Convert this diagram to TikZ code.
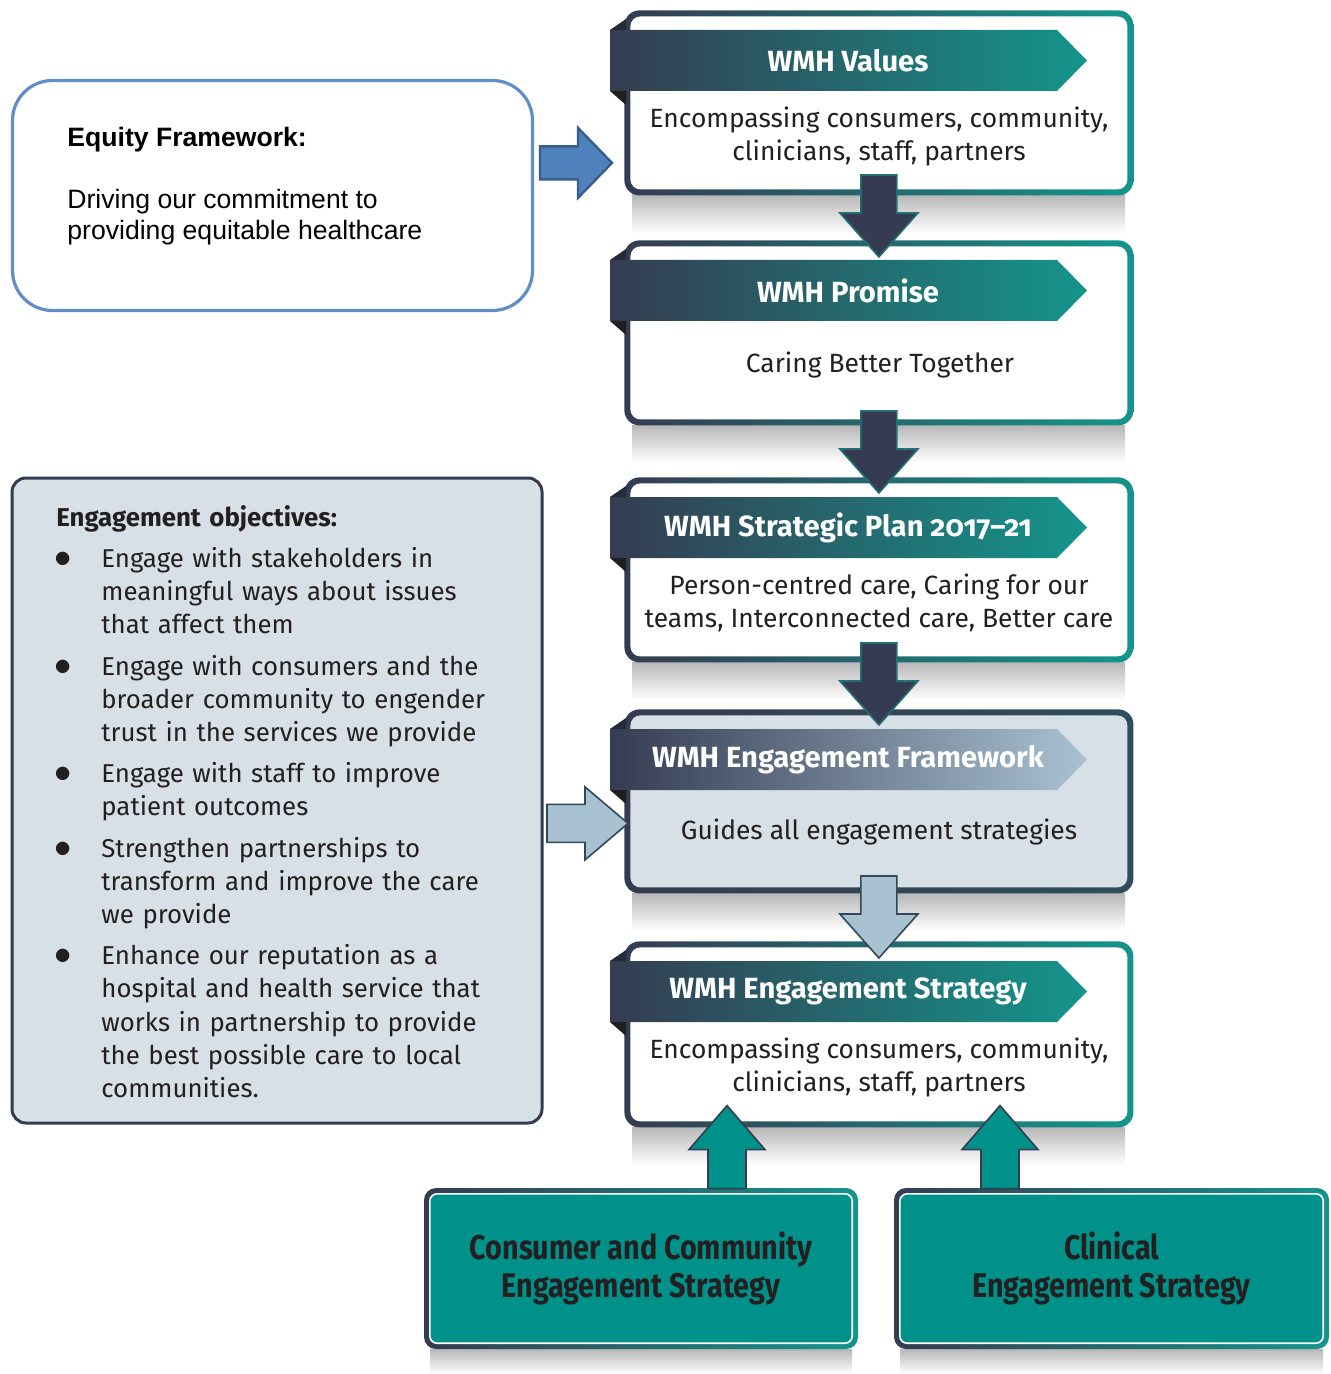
\documentclass[tikz,border=0pt]{standalone}
\usepackage{fontspec}
\setmainfont{Fira Sans}
\newfontfamily\eqfont{Liberation Sans}
\newfontfamily\narrowfont[FakeStretch=0.84]{Fira Sans}
\usetikzlibrary{positioning,calc}

\definecolor{wmhnavy}{HTML}{353C51}
\definecolor{wmhteal}{HTML}{14958B}
\definecolor{wmhgrey}{HTML}{D7E0E6}
\definecolor{wmhsky}{HTML}{A9C2D2}
\definecolor{wmhgreen}{HTML}{00918A}
\definecolor{eqblue}{HTML}{4F81BD}
\definecolor{eqedge}{HTML}{385D8A}
\definecolor{inkdark}{HTML}{231F20}

\tikzset{
  panel/.style={rounded corners=7.5pt, left color=wmhnavy, inner sep=0pt, minimum width=254.5pt,
    path picture={\fill[#1, rounded corners=5pt]
      ([shift={(3pt,-3pt)}]path picture bounding box.north west) rectangle
      ([shift={(-3pt,3pt)}]path picture bounding box.south east);}},
  panel/.default=white,
  greenbox/.style={rounded corners=6pt, left color=wmhnavy, right color=wmhteal, inner sep=0pt,
    minimum height=80.5pt, align=center, text=inkdark,
    font=\narrowfont\bfseries\fontsize{17.1}{19}\selectfont,
    path picture={
      \fill[white, rounded corners=4pt]
        ([shift={(2.5pt,-2.5pt)}]path picture bounding box.north west) rectangle
        ([shift={(-2.5pt,2.5pt)}]path picture bounding box.south east);
      \fill[wmhgreen, rounded corners=3.5pt]
        ([shift={(3.3pt,-3.3pt)}]path picture bounding box.north west) rectangle
        ([shift={(-3.3pt,3.3pt)}]path picture bounding box.south east);}},
  shadow/.style={top color=black!28, bottom color=white},
  title/.style={text=white, font=\bfseries\fontsize{14.6}{18}\selectfont},
  body/.style={text=inkdark, align=center, font=\fontsize{13.2}{16.5}\selectfont},
  darkarrow/.style={fill=wmhnavy, draw=wmhteal!60!wmhnavy, line width=0.8pt},
  skyarrow/.style={fill=wmhsky, draw=wmhnavy!85!wmhteal, line width=0.8pt},
  greenarrow/.style={fill=wmhgreen, draw=wmhnavy, line width=0.8pt},
  eqarrow/.style={fill=eqblue, draw=eqedge, line width=1.2pt},
  eqbox/.style={draw=eqblue!90!white, line width=1.6pt, rounded corners=20pt, fill=white,
    minimum width=260pt, minimum height=115pt},
  eqtext/.style={font=\eqfont\fontsize{13.3}{15.5}\selectfont, align=left, inner sep=0pt},
  objbox/.style={fill=wmhgrey, draw=wmhnavy, line width=1.5pt, rounded corners=7pt,
    minimum width=265pt, minimum height=322.5pt},
  objtext/.style={text=inkdark, text width=235pt, inner sep=0pt, font=\fontsize{12.9}{16.6}\selectfont}
}

\newcommand{\wmhpanel}[7]{%
  \shade[shadow] (632,#3) rectangle (1125,#3+38);
  \node[panel=#4, right color=#6, minimum height={(#3-#2)*0.5pt}, anchor=north west] (#1) at (624,#2) {};
  \shade[left color=wmhnavy, right color=#5] (610,#2+20) -- (1057,#2+20) -- (1087,#2+50.5)
    -- (1057,#2+81) -- (610,#2+81) -- cycle;
  \fill[wmhnavy!70!black] (610,#2+20) -- (626,#2+9) -- (626,#2+20) -- cycle;
  \fill[black!88] (610,#2+81) -- (626,#2+81) -- (626,#2+95) -- cycle;
  \node[title] (#1-title) at (848,#2+50.5) {#7};
}
\newcommand{\flowdown}[2]{%
  \draw[#2] (#1) ++(-18,-82) -- ++(36,0) -- ++(0,38) -- ++(21,0) -- (#1) -- ++(-39,-44) -- ++(21,0) -- cycle;}
\newcommand{\flowup}[2]{%
  \draw[#2] (#1) ++(-19,83) -- ++(38,0) -- ++(0,-39) -- ++(19,0) -- (#1) -- ++(-38,44) -- ++(19,0) -- cycle;}
\newcommand{\flowright}[6]{%
  \draw[#2] (#1) -- ++(-#6,-#4) -- ++(0,#4-#3) -- ++(#6-#5,0) -- ++(0,2*#3) -- ++(#5-#6,0) -- ++(0,#4-#3) -- cycle;}
\newcommand{\objitem}[1]{\par\noindent\hangindent=22.5pt\hangafter=1\makebox[22.5pt][l]{\hspace{-1pt}{\fontsize{17}{17}\selectfont$\bullet$}}#1}

\begin{document}
\begin{tikzpicture}[x=0.5pt, y=-0.5pt]
\useasboundingbox (0,0) rectangle (1330,1374);

\wmhpanel{values}{10}{195}{white}{wmhteal}{wmhteal}{WMH Values}
\node[body] (values-text) at (879,136.5) {Encompassing consumers, community,\\clinicians, staff, partners};
\wmhpanel{promise}{240}{425}{white}{wmhteal}{wmhteal}{WMH Promise}
\node[body] (promise-text) at (880,365) {Caring Better Together};
\wmhpanel{plan}{477}{662}{white}{wmhteal}{wmhteal}{WMH Strategic Plan {\addfontfeature{Numbers=OldStyle}2017–21}}
\node[body] (plan-text) at (879,602.5) {Person-centred care, Caring for our\\teams, Interconnected care, Better care};
\wmhpanel{framework}{709}{893}{wmhgrey}{wmhsky}{wmhnavy!80!wmhteal}{WMH Engagement Framework}
\node[body] (framework-text) at (879,832) {Guides all engagement strategies};
\wmhpanel{strategy}{941}{1127}{white}{wmhteal}{wmhteal}{WMH Engagement Strategy}
\node[body] (strategy-text) at (879,1067.5) {Encompassing consumers, community,\\clinicians, staff, partners};

\flowdown{$(promise.north)+(0,17)$}{darkarrow}
\flowdown{$(plan.north)+(0,16)$}{darkarrow}
\flowdown{$(framework.north)+(0,16)$}{darkarrow}
\flowdown{$(strategy.north)+(0,17)$}{skyarrow}

\node[eqbox] (equity) at (272.5,195.5) {};
\node[eqtext, anchor=north west] (equity-text) at (67,127) {\textbf{Equity Framework:}\\[15.5pt]Driving our commitment to\\providing equitable healthcare};
\flowright{$(values.west)+(-12,60)$}{eqarrow}{16.5}{35}{72}{34}

\node[objbox] (objectives) at (277,800.5) {};
\node[objtext, anchor=north west] (objectives-text) at (56,505) {\setlength{\parskip}{4pt}\raggedright
  \textbf{Engagement objectives:}
  \objitem{Engage with stakeholders in\newline meaningful ways about issues\newline that affect them}
  \objitem{Engage with consumers and the\newline broader community to engender\newline trust in the services we provide}
  \objitem{Engage with staff to improve\newline patient outcomes}
  \objitem{Strengthen partnerships to\newline transform and improve the care\newline we provide}
  \objitem{Enhance our reputation as a\newline hospital and health service that\newline works in partnership to provide\newline the best possible care to local\newline communities.}\par};
\flowright{$(framework.west)+(4,22)$}{skyarrow}{19}{36.5}{81}{43}

\shade[shadow] (430,1349) rectangle (852,1374);
\shade[shadow] (900,1349) rectangle (1323,1374);
\node[greenbox, minimum width=217pt] (consumer) at (641,1268.5) {Consumer and Community\\Engagement Strategy};
\node[greenbox, minimum width=217.5pt] (clinical) at (1111.5,1268.5) {Clinical\\Engagement Strategy};
\flowup{$(consumer.north)+(86,-82)$}{greenarrow}
\flowup{$(clinical.north)+(-111.5,-82)$}{greenarrow}
\end{tikzpicture}
\end{document}
